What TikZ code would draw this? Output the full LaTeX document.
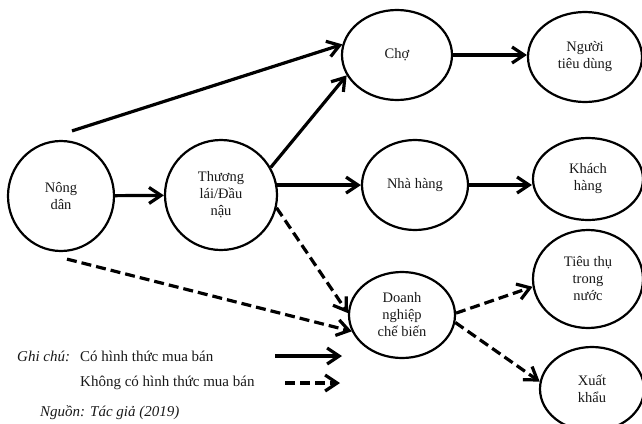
\documentclass[tikz,border=0pt]{standalone}
\usepackage{fontspec}
\setmainfont{Liberation Serif}
\usetikzlibrary{shapes.geometric,arrows.meta}
\begin{document}
\begin{tikzpicture}[x=1pt,y=-1pt,
  el/.style={draw=black,line width=2.2pt,ellipse,inner sep=0pt,align=center,
     font=\fontsize{14.5}{17}\selectfont,text=black!90},
  sol/.style={line width=3.2pt,-{Straight Barb[length=12pt,width=16pt]}},
  dsh/.style={sol,dash pattern=on 10pt off 5pt},
  lbl/.style={anchor=west,inner sep=0pt,font=\fontsize{15}{17}\selectfont,text=black!90}]
\useasboundingbox (0,0) rectangle (642,423);
\fill[white] (0,0) rectangle (642,423);
% nodes
\node[el,minimum width=106pt,minimum height=110pt] (nd)  at (61,196)  {Nông\\dân};
\node[el,minimum width=112pt,minimum height=110pt] (tl)  at (221,195) {Thương\\lái/Đầu\\nậu};
\node[el,minimum width=110pt,minimum height=90pt]  (cho) at (397,55)  {Chợ};
\node[el,minimum width=114pt,minimum height=90pt]  (ntd) at (585,57)  {Người\\tiêu dùng};
\node[el,minimum width=106pt,minimum height=90pt]  (nh)  at (415,185) {Nhà hàng};
\node[el,minimum width=110pt,minimum height=82pt]  (kh)  at (588,179) {Khách\\hàng};
\node[el,minimum width=110pt,minimum height=98pt]  (tt)  at (588,279) {Tiêu thụ\\trong\\nước};
\node[el,minimum width=106pt,minimum height=86pt]  (dn)  at (402,315) {Doanh\\nghiệp\\chế biến};
\node[el,minimum width=104pt,minimum height=84pt]  (xk)  at (592,389) {Xuất\\khẩu};
% connectors
\draw[sol] (nd) -- (tl);
\draw[sol] ([xshift=11pt,yshift=9pt]nd.north) -- (cho.169);
\draw[sol] (tl.29) -- (cho.202);
\draw[sol] (tl.10) -- (tl.10 -| nh.west);
\draw[dsh] (tl.-13) -- (dn.178);
\draw[dsh] ([xshift=6pt,yshift=-7pt]nd.south) -- (dn.198);
\draw[sol] (cho.east) -- (cho.east -| ntd.west);
\draw[sol] (nh.east) -- (nh.east -| kh.west);
\draw[dsh] (dn.2) -- (tt.188);
\draw[dsh] (dn.-8) -- (xk.172);
% legend
\node[lbl,font=\fontsize{15}{17}\selectfont\itshape] (gc) at (17,356) {Ghi chú:};
\node[lbl] (l1) at (80,356) {Có hình thức mua bán};
\node[lbl] (l2) at (80,383) {Không có hình thức mua bán};
\coordinate (a1) at (275,356);
\coordinate (b1) at (342,356);
\coordinate (a2) at (285,383);
\coordinate (b2) at (340,383);
\draw[sol] (a1) -- (b1);
\draw[dsh] (a2) -- (b2);
\node[lbl,font=\fontsize{15}{17}\selectfont\itshape] (src) at (40,413) {Nguồn: Tác giả (2019)};
\end{tikzpicture}
\end{document}
